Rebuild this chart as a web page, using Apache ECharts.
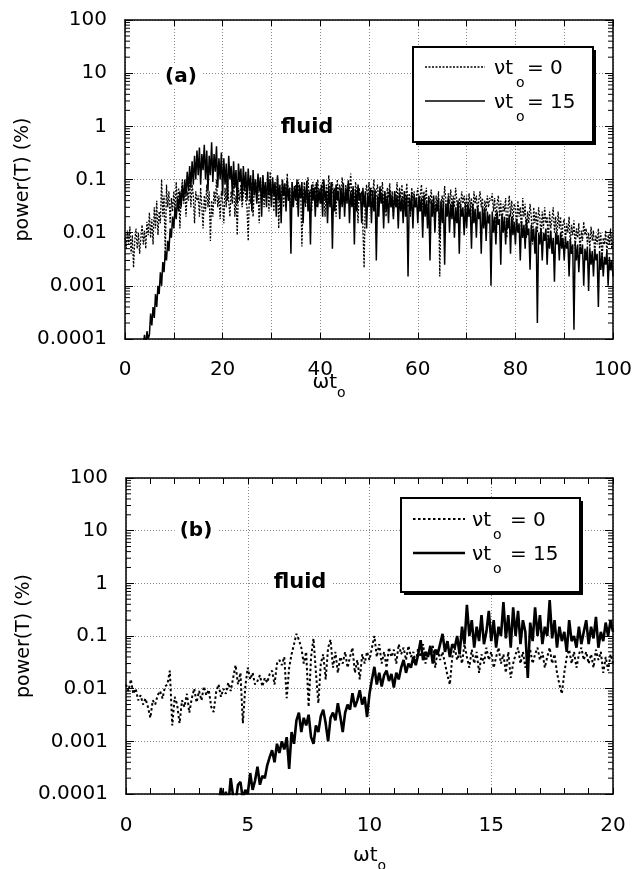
<!DOCTYPE html>
<html><head><meta charset="utf-8">
<script src="https://cdn.jsdelivr.net/npm/echarts@6/dist/echarts.min.js"></script>
<style>html,body{margin:0;padding:0;background:#fff}#c{width:636px;height:869px}</style>
</head><body><div id="c"></div>
<script>
const FONT = 'DejaVu Sans';
const yTickLabels = ['0.0001','0.001','0.01','0.1','1','10','100'];
const xTicksA = [0,20,40,60,80,100];
const xTicksB = [0,5,10,15,20];
const panelLabels = ['(a)','(b)'];
const mediumLabel = 'fluid';
const yTitle = 'power(T) (%)';
const legendValues = ['0', '15'];

// panel (a): sampled every 0.25 in ωt0
const stepA = 0.25, startA0 = 0, startA15 = 3.5;
const powerA0 = [
 0.008,0.005,0.011,0.006,0.013,0.004,0.009,0.0022,0.007,0.012,0.005,0.01,0.004,0.008,0.014,0.006,0.011,0.005,0.016,0.009,
 0.024,0.008,0.018,0.006,0.03,0.012,0.04,0.009,0.025,0.015,0.1,0.02,0.05,0.0035,0.08,0.03,0.06,0.015,0.045,0.025,
 0.06,0.025,0.09,0.03,0.07,0.012,0.05,0.1,0.035,0.07,0.02,0.06,0.04,0.11,0.03,0.08,0.05,0.015,0.06,0.04,
 0.05,0.02,0.07,0.03,0.012,0.05,0.025,0.08,0.03,0.06,0.007,0.04,0.02,0.06,0.035,0.1,0.03,0.05,0.018,0.06,
 0.04,0.015,0.07,0.03,0.1,0.04,0.02,0.06,0.035,0.12,0.02,0.05,0.009,0.07,0.04,0.08,0.03,0.05,0.1,0.04,
 0.03,0.007,0.06,0.035,0.09,0.02,0.07,0.1,0.04,0.065,0.015,0.08,0.05,0.12,0.03,0.07,0.045,0.1,0.025,0.14,
 0.04,0.09,0.025,0.07,0.05,0.11,0.012,0.06,0.035,0.1,0.03,0.08,0.05,0.13,0.04,0.07,0.02,0.09,0.045,0.06,
 0.08,0.03,0.1,0.045,0.06,0.0055,0.04,0.09,0.03,0.07,0.11,0.04,0.065,0.025,0.09,0.05,0.08,0.03,0.1,0.045,
 0.07,0.035,0.1,0.05,0.02,0.08,0.04,0.12,0.06,0.03,0.09,0.045,0.07,0.02,0.1,0.05,0.08,0.035,0.11,0.06,
 0.03,0.08,0.045,0.1,0.06,0.13,0.04,0.07,0.03,0.09,0.05,0.015,0.07,0.04,0.06,0.012,0.0022,0.05,0.08,0.04,
 0.09,0.03,0.07,0.045,0.1,0.025,0.06,0.08,0.035,0.075,0.05,0.09,0.03,0.06,0.02,0.07,0.045,0.085,0.03,0.06,
 0.02,0.06,0.04,0.09,0.03,0.07,0.045,0.08,0.025,0.06,0.04,0.085,0.03,0.055,0.02,0.07,0.04,0.06,0.03,0.05,
 0.07,0.025,0.05,0.08,0.03,0.06,0.04,0.07,0.02,0.05,0.035,0.065,0.03,0.045,0.012,0.05,0.03,0.06,0.0015,0.035,
 0.05,0.03,0.075,0.04,0.02,0.055,0.035,0.065,0.025,0.05,0.03,0.07,0.04,0.015,0.045,0.03,0.06,0.035,0.05,0.025,
 0.05,0.02,0.055,0.03,0.045,0.015,0.06,0.035,0.05,0.025,0.04,0.06,0.03,0.045,0.015,0.04,0.025,0.05,0.03,0.045,
 0.04,0.055,0.025,0.045,0.015,0.035,0.05,0.02,0.04,0.012,0.035,0.025,0.045,0.008,0.03,0.05,0.02,0.04,0.015,0.035,
 0.03,0.012,0.04,0.02,0.03,0.01,0.045,0.02,0.035,0.008,0.025,0.015,0.035,0.02,0.006,0.03,0.015,0.025,0.01,0.03,
 0.02,0.008,0.025,0.012,0.03,0.015,0.02,0.006,0.025,0.012,0.018,0.03,0.01,0.02,0.008,0.025,0.012,0.02,0.007,0.015,
 0.018,0.007,0.015,0.01,0.02,0.006,0.014,0.009,0.017,0.005,0.012,0.008,0.015,0.004,0.011,0.007,0.016,0.009,0.012,0.006,
 0.01,0.005,0.013,0.007,0.011,0.004,0.009,0.006,0.012,0.005,0.01,0.003,0.008,0.006,0.011,0.004,0.009,0.006,0.012,0.005,
 0.007];
const powerA15 = [
 0.00005,0.00008,0.00012,0.00007,0.00014,0.0001,
 0.00012,0.0003,0.00018,0.0004,0.00025,0.0007,0.0004,0.001,0.0007,0.0018,0.001,0.0028,0.0018,0.0045,0.003,0.007,0.0045,0.012,0.008,0.02,
 0.012,0.03,0.018,0.045,0.025,0.06,0.03,0.08,0.04,0.1,0.05,0.14,0.06,0.18,0.07,0.22,0.08,0.28,0.1,0.35,
 0.12,0.4,0.08,0.3,0.15,0.45,0.1,0.35,0.06,0.28,0.12,0.5,0.09,0.3,0.14,0.42,0.07,0.25,0.1,0.32,
 0.05,0.25,0.08,0.2,0.04,0.28,0.1,0.18,0.05,0.22,0.07,0.15,0.035,0.2,0.09,0.16,0.04,0.18,0.06,0.14,
 0.04,0.16,0.06,0.12,0.025,0.15,0.05,0.1,0.035,0.13,0.06,0.11,0.02,0.12,0.045,0.09,0.03,0.14,0.05,0.1,
 0.03,0.11,0.05,0.09,0.02,0.12,0.04,0.08,0.015,0.1,0.05,0.085,0.025,0.1,0.04,0.07,0.004,0.09,0.03,0.075,
 0.04,0.1,0.02,0.08,0.045,0.09,0.015,0.07,0.035,0.095,0.025,0.06,0.006,0.08,0.04,0.07,0.02,0.09,0.03,0.065,
 0.035,0.08,0.02,0.1,0.04,0.06,0.015,0.075,0.03,0.09,0.005,0.065,0.025,0.08,0.04,0.06,0.018,0.07,0.03,0.085,
 0.02,0.07,0.035,0.09,0.015,0.06,0.03,0.075,0.006,0.065,0.025,0.08,0.04,0.055,0.015,0.07,0.03,0.06,0.012,0.055,
 0.03,0.07,0.015,0.06,0.025,0.065,0.003,0.05,0.02,0.07,0.035,0.055,0.012,0.06,0.025,0.05,0.015,0.065,0.03,0.05,
 0.018,0.06,0.03,0.05,0.012,0.055,0.025,0.045,0.015,0.06,0.02,0.05,0.0015,0.045,0.025,0.055,0.012,0.05,0.03,0.045,
 0.015,0.05,0.025,0.045,0.008,0.05,0.02,0.04,0.012,0.045,0.003,0.04,0.02,0.05,0.01,0.035,0.025,0.045,0.008,0.04,
 0.015,0.04,0.0025,0.035,0.02,0.045,0.01,0.035,0.018,0.04,0.008,0.03,0.015,0.04,0.004,0.035,0.02,0.03,0.009,0.035,
 0.012,0.035,0.02,0.03,0.005,0.035,0.015,0.028,0.008,0.032,0.018,0.025,0.004,0.03,0.012,0.028,0.007,0.025,0.015,0.022,
 0.001,0.025,0.01,0.02,0.006,0.025,0.014,0.018,0.0025,0.022,0.01,0.02,0.006,0.018,0.012,0.022,0.004,0.02,0.009,0.016,
 0.006,0.018,0.01,0.015,0.003,0.016,0.008,0.014,0.005,0.018,0.009,0.012,0.002,0.014,0.007,0.012,0.004,0.013,0.0002,0.01,
 0.006,0.012,0.003,0.01,0.007,0.012,0.0025,0.009,0.005,0.011,0.004,0.008,0.0012,0.01,0.006,0.009,0.003,0.01,0.005,0.008,
 0.003,0.008,0.005,0.007,0.0015,0.0075,0.004,0.006,0.00015,0.0065,0.003,0.006,0.0018,0.0055,0.004,0.006,0.001,0.005,0.003,0.0055,
 0.0008,0.005,0.0025,0.0045,0.0015,0.005,0.003,0.004,0.0004,0.0045,0.002,0.004,0.0015,0.0035,0.0025,0.0045,0.001,0.0035,0.002,0.003,
 0.0015];

// panel (b): sampled every 0.1 in ωt0
const stepB = 0.1, startB0 = 0, startB15 = 3.8;
const powerB0 = [0.012,0.009,0.015,0.008,0.01,0.006,0.0075,0.005,0.0065,0.0045,
 0.0028,0.006,0.005,0.0075,0.009,0.0065,0.011,0.012,0.022,0.002,
 0.007,0.005,0.0022,0.006,0.0045,0.008,0.0035,0.0065,0.01,0.0055,
 0.009,0.006,0.011,0.0075,0.0095,0.0045,0.0036,0.0085,0.012,0.007,
 0.01,0.008,0.013,0.009,0.016,0.028,0.012,0.02,0.0022,0.011,
 0.025,0.015,0.02,0.012,0.014,0.018,0.011,0.016,0.013,0.019,
 0.022,0.012,0.03,0.035,0.028,0.04,0.0066,0.025,0.045,0.07,
 0.11,0.085,0.06,0.03,0.05,0.0045,0.04,0.09,0.02,0.0053,
 0.03,0.045,0.015,0.06,0.085,0.025,0.05,0.02,0.04,0.03,
 0.05,0.025,0.04,0.06,0.02,0.035,0.015,0.045,0.03,0.05,
 0.035,0.06,0.1,0.04,0.07,0.03,0.05,0.025,0.06,0.04,
 0.055,0.03,0.07,0.045,0.06,0.035,0.065,0.04,0.05,0.03,
 0.06,0.04,0.07,0.03,0.05,0.045,0.065,0.025,0.055,0.035,
 0.05,0.03,0.018,0.012,0.04,0.06,0.035,0.05,0.03,0.07,
 0.04,0.025,0.055,0.03,0.05,0.02,0.045,0.03,0.06,0.035,
 0.05,0.025,0.04,0.06,0.03,0.045,0.02,0.05,0.016,0.03,
 0.045,0.06,0.03,0.05,0.025,0.04,0.055,0.03,0.045,0.06,
 0.035,0.05,0.025,0.04,0.06,0.03,0.045,0.02,0.012,0.008,
 0.02,0.04,0.055,0.03,0.05,0.025,0.045,0.06,0.035,0.05,
 0.03,0.045,0.025,0.055,0.035,0.05,0.02,0.04,0.022,0.045,
 0.03];
const powerB15 = [0.00006,0.00013,
 0.00008,0.00011,0.00006,0.0002,0.00009,0.00007,0.00015,0.00017,0.00008,0.00012,
 0.0001,0.00025,0.00012,0.00018,0.00033,0.00015,0.00022,0.0002,0.00035,0.0005,
 0.00068,0.0004,0.0009,0.0006,0.001,0.0007,0.0012,0.0003,0.0015,0.0009,
 0.0025,0.0035,0.0015,0.0028,0.002,0.0032,0.0012,0.0009,0.002,0.0015,
 0.003,0.004,0.0022,0.001,0.0028,0.0035,0.0025,0.0053,0.003,0.0015,
 0.0035,0.005,0.004,0.0082,0.0045,0.006,0.0093,0.005,0.007,0.0029,
 0.008,0.015,0.026,0.012,0.02,0.011,0.018,0.022,0.014,0.019,
 0.0105,0.02,0.015,0.025,0.035,0.02,0.03,0.025,0.04,0.028,
 0.045,0.083,0.035,0.05,0.04,0.065,0.03,0.055,0.045,0.07,
 0.11,0.05,0.08,0.04,0.07,0.06,0.1,0.045,0.15,0.07,
 0.39,0.1,0.2,0.06,0.15,0.08,0.25,0.07,0.12,0.3,
 0.08,0.2,0.06,0.15,0.1,0.44,0.09,0.25,0.06,0.35,
 0.1,0.3,0.07,0.2,0.12,0.016,0.18,0.08,0.35,0.1,
 0.25,0.07,0.15,0.1,0.48,0.09,0.2,0.06,0.15,0.08,
 0.12,0.05,0.2,0.08,0.1,0.06,0.15,0.07,0.12,0.2,
 0.07,0.15,0.09,0.23,0.06,0.12,0.08,0.18,0.1,0.2,
 0.12];

const xTitle = '{m|ωt}{s|o}';
const pairs = (start, step, arr) => arr.map((v, i) => [Math.round((start + i * step) * 1000) / 1000, v]);
const rich = {
  m: {fontFamily: FONT, fontSize: 20, color: '#000', lineHeight: 34},
  s: {fontFamily: FONT, fontSize: 14, color: '#000', lineHeight: 9, verticalAlign: 'bottom'}
};
const gridLine = {show: true, lineStyle: {color: '#888', type: [1, 2], width: 1}};
const frame = {show: true, onZero: false, lineStyle: {color: '#000', width: 1.5}};
const yLabel = {fontFamily: FONT, fontSize: 20, color: '#000', margin: 18,
  formatter: v => yTickLabels[Math.round(Math.log10(v)) + 4]};

function yAx(grid, pos) {
  const left = pos === 'left';
  return {
    type: 'log', logBase: 10, gridIndex: grid, position: pos, min: 0.0001, max: 100, splitNumber: 6,
    axisLine: frame, axisTick: {show: true, inside: true, length: 8, lineStyle: {color: '#000'}},
    axisLabel: left ? yLabel : {show: false},
    splitLine: left ? gridLine : {show: false},
    name: left ? yTitle : '', nameLocation: 'middle', nameGap: 92, nameRotate: 90, nameMoveOverlap: false,
    nameTextStyle: {fontFamily: FONT, fontSize: 19, color: '#000'}
  };
}
function xAx(grid, pos, max, interval, ticks, minor, margin, nameGap, namePad) {
  const bottom = pos === 'bottom';
  return {
    type: 'value', gridIndex: grid, position: pos, min: 0, max: max, interval: interval,
    axisLine: frame,
    axisTick: {show: true, inside: true, length: 6, lineStyle: {color: '#000'}},
    minorTick: {show: minor, splitNumber: 5, length: 6, lineStyle: {color: '#000'}},
    axisLabel: bottom ? {fontFamily: FONT, fontSize: 20, color: '#000', margin: margin,
      formatter: v => ticks.includes(v) ? String(v) : ''} : {show: false},
    splitLine: bottom ? gridLine : {show: false},
    name: bottom ? xTitle : '', nameLocation: 'middle', nameGap: nameGap, nameMoveOverlap: false,
    nameTextStyle: {rich: rich, padding: namePad}
  };
}

const styleA0 = {color: '#000', width: 1.3, type: [2, 1.5]};
const styleA15 = {color: '#000', width: 1.5};
const styleB0 = {color: '#000', width: 2, type: [2.5, 2.5]};
const styleB15 = {color: '#000', width: 2.6};

const chart = echarts.init(document.getElementById('c'));
chart.setOption({
  animation: false,
  backgroundColor: '#fff',
  grid: [
    {left: 125, top: 20, width: 488, height: 319, outerBoundsMode: 'none', containLabel: false},
    {left: 126, top: 478, width: 487, height: 316, outerBoundsMode: 'none', containLabel: false}
  ],
  xAxis: [
    xAx(0, 'bottom', 100, 10, xTicksA, false, 21, 27, [0, 80, 0, 0]),
    xAx(0, 'top', 100, 10, xTicksA, false, 0, 0, 0),
    xAx(1, 'bottom', 20, 5, xTicksB, true, 22, 45, 0),
    xAx(1, 'top', 20, 5, xTicksB, true, 0, 0, 0)
  ],
  yAxis: [yAx(0, 'left'), yAx(0, 'right'), yAx(1, 'left'), yAx(1, 'right')],
  series: [
    {name: 'νt0 = 0 (a)', type: 'line', xAxisIndex: 0, yAxisIndex: 0, data: pairs(startA0, stepA, powerA0),
     symbol: 'none', lineStyle: styleA0, z: 2},
    {name: 'νt0 = 15 (a)', type: 'line', xAxisIndex: 0, yAxisIndex: 0, data: pairs(startA15, stepA, powerA15),
     symbol: 'none', lineStyle: styleA15, z: 3},
    {name: 'νt0 = 0 (b)', type: 'line', xAxisIndex: 2, yAxisIndex: 2, data: pairs(startB0, stepB, powerB0),
     symbol: 'none', lineStyle: styleB0, z: 2},
    {name: 'νt0 = 15 (b)', type: 'line', xAxisIndex: 2, yAxisIndex: 2, data: pairs(startB15, stepB, powerB15),
     symbol: 'none', lineStyle: styleB15, z: 3}
  ]
});

const g = [];
// log minor ticks (2..9 per decade) on left and right frames, placed through the axis scales
[[0, 0, 100], [2, 2, 20]].forEach(([yl, xi, xmax]) => {
  const xL = chart.convertToPixel({xAxisIndex: xi}, 0);
  const xR = chart.convertToPixel({xAxisIndex: xi}, xmax);
  for (let d = -4; d < 2; d++) {
    for (let k = 2; k <= 9; k++) {
      const y = chart.convertToPixel({yAxisIndex: yl}, k * Math.pow(10, d));
      g.push({type: 'line', silent: true, z: 5, shape: {x1: xL, y1: y, x2: xL + 5, y2: y}, style: {stroke: '#000', lineWidth: 1}});
      g.push({type: 'line', silent: true, z: 5, shape: {x1: xR - 5, y1: y, x2: xR, y2: y}, style: {stroke: '#000', lineWidth: 1}});
    }
  }
});
const boldText = (text, x, y, size) => ({type: 'text', x: x, y: y, z: 10, silent: true,
  style: {text: text, font: 'bold ' + size + 'px ' + FONT, fill: '#000', align: 'center', verticalAlign: 'middle',
    backgroundColor: '#fff', padding: [2, 5]}});
g.push(boldText(panelLabels[0], 181, 77, 20));
g.push(boldText(mediumLabel, 307, 128, 21));
g.push(boldText(panelLabels[1], 196, 531, 20));
g.push(boldText(mediumLabel, 300, 583, 21));

// legend boxes (shadowed frame, line samples, labels)
const plain = (text, x, y, size) => ({type: 'text', x: x, y: y, z: 21, silent: true,
  style: {text: text, font: size + 'px ' + FONT, fill: '#000', align: 'left', verticalAlign: 'middle'}});
function legendBox(bx, by, bw, bh, lx0, lx1, ly, styles, tx, subDx, eqDx) {
  g.push({type: 'rect', z: 19, silent: true, shape: {x: bx + 3, y: by + 3, width: bw, height: bh}, style: {fill: '#000'}});
  g.push({type: 'rect', z: 20, silent: true, shape: {x: bx, y: by, width: bw, height: bh}, style: {fill: '#fff', stroke: '#000', lineWidth: 2}});
  styles.forEach((st, i) => {
    const y = ly + i * 34;
    g.push({type: 'line', z: 21, silent: true, shape: {x1: lx0, y1: y, x2: lx1, y2: y},
      style: {stroke: '#000', lineWidth: Math.max(st.width, 1.3), lineDash: st.type || null}});
    g.push(plain('νt', tx, y + 2, 20));
    g.push(plain('o', tx + subDx, y + 16, 14));
    g.push(plain('= ' + legendValues[i], tx + eqDx, y + 2, 20));
  });
}
legendBox(413, 47, 180, 95, 425, 485, 67, [styleA0, styleA15], 494, 22, 33);
legendBox(401, 498, 179, 94, 413, 465, 519, [styleB0, styleB15], 472, 21, 38);
chart.setOption({graphic: g});
</script></body></html>
